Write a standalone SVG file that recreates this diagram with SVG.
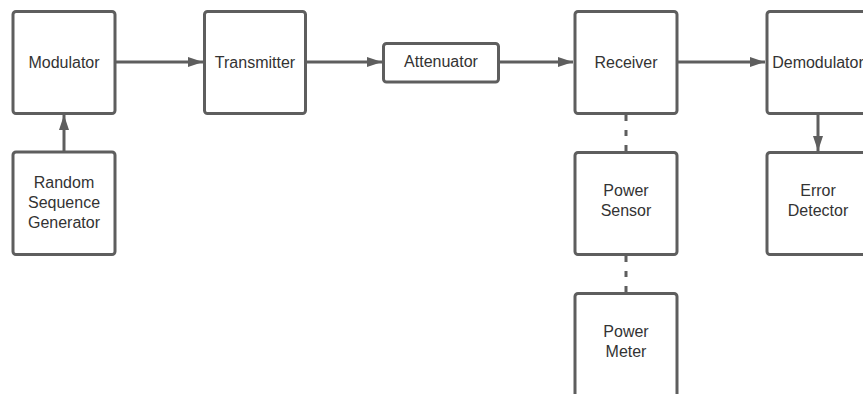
<svg xmlns="http://www.w3.org/2000/svg" width="863" height="394" viewBox="0 0 863 394">
<style>
.box{fill:#fff;stroke:#5e5e5e;stroke-width:3}
.lbl{font-family:"Liberation Sans",Arial,sans-serif;font-size:16px;fill:#333;text-anchor:middle}
.edge{stroke:#5e5e5e;stroke-width:3;fill:none}
.dot{stroke:#5e5e5e;stroke-width:3;fill:none;stroke-dasharray:6 9}
</style>
<defs>
<marker id="ah" viewBox="0 0 15 10" refX="15" refY="5" markerWidth="15" markerHeight="10" markerUnits="userSpaceOnUse" orient="auto">
<path d="M0,0 L15,5 L0,10 Z" fill="#5e5e5e"/>
</marker>
</defs>
<rect width="863" height="394" fill="#fff"/>
<g id="connectors">
<line class="edge" x1="116" y1="62" x2="203" y2="62" marker-end="url(#ah)"/>
<line class="edge" x1="64" y1="151" x2="64" y2="115" marker-end="url(#ah)"/>
<line class="edge" x1="306" y1="62" x2="382" y2="62" marker-end="url(#ah)"/>
<line class="edge" x1="499" y1="62" x2="573" y2="62" marker-end="url(#ah)"/>
<line class="edge" x1="678" y1="62" x2="765" y2="62" marker-end="url(#ah)"/>
<line class="edge" x1="818" y1="114" x2="818" y2="151" marker-end="url(#ah)"/>
<line class="dot" x1="626" y1="115" x2="626" y2="152"/>
<line class="dot" x1="626" y1="256" x2="626" y2="293"/>
</g>
<g id="modulator"><rect class="box" x="13" y="11.5" width="102" height="102" rx="3"/><text class="lbl" x="64" y="68">Modulator</text></g>
<g id="rsg"><rect class="box" x="13" y="152" width="102" height="102.5" rx="3"/><text class="lbl" x="64" y="188">Random</text><text class="lbl" x="64" y="208">Sequence</text><text class="lbl" x="64" y="228">Generator</text></g>
<g id="transmitter"><rect class="box" x="204.5" y="11.5" width="101" height="102" rx="3"/><text class="lbl" x="255" y="68">Transmitter</text></g>
<g id="attenuator"><rect class="box" x="383.5" y="43.5" width="115" height="38.5" rx="3"/><text class="lbl" x="441" y="67">Attenuator</text></g>
<g id="receiver"><rect class="box" x="575" y="11.5" width="102" height="102" rx="3"/><text class="lbl" x="626" y="68">Receiver</text></g>
<g id="demodulator"><rect class="box" x="767" y="11.5" width="102" height="102" rx="3"/><text class="lbl" x="818" y="68">Demodulator</text></g>
<g id="power-sensor"><rect class="box" x="575" y="152.5" width="102" height="102" rx="3"/><text class="lbl" x="626" y="196">Power</text><text class="lbl" x="626" y="216">Sensor</text></g>
<g id="error-detector"><rect class="box" x="767" y="152.5" width="102" height="102" rx="3"/><text class="lbl" x="818" y="196">Error</text><text class="lbl" x="818" y="216">Detector</text></g>
<g id="power-meter"><rect class="box" x="575" y="293.5" width="102" height="104" rx="3"/><text class="lbl" x="626" y="337">Power</text><text class="lbl" x="626" y="357">Meter</text></g>
</svg>
